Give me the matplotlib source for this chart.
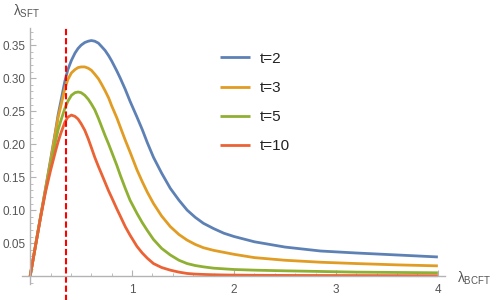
import matplotlib
matplotlib.use("Agg")
import matplotlib.pyplot as plt
from matplotlib.ticker import MultipleLocator

# ---- data ----
x_vals = [0.0, 0.1, 0.15, 0.2, 0.25, 0.275, 0.3, 0.34, 0.37, 0.405,
          0.44, 0.47, 0.5, 0.536, 0.57, 0.6, 0.634, 0.67, 0.7, 0.735,
          0.77, 0.8, 0.85, 0.884, 0.933, 0.98, 1.048, 1.1, 1.15, 1.21,
          1.29, 1.375, 1.46, 1.54, 1.62, 1.7, 1.8, 1.9, 2.0, 2.2,
          2.5, 2.85, 3.2, 3.6, 4.0]
t2 = [0, .088, .132, .176, .221, .245, .264, .295, .313, .327,
      .338, .345, .350, .354, .356, .357, .356, .353, .348, .342,
      .334, .326, .311, .300, .283, .265, .241, .222, .202, .180,
      .156, .133, .115, .100, .089, .080, .072, .065, .060, .052,
      .044, .038, .035, .032, .029]
t3 = [0, .088, .131, .174, .219, .241, .257, .284, .298, .308,
      .313, .316, .317, .317, .315, .312, .306, .299, .291, .281,
      .270, .258, .240, .226, .206, .188, .161, .143, .127, .110,
      .091, .075, .063, .0545, .048, .043, .039, .036, .033, .028,
      .024, .021, .019, .017, .0155]
t5 = [0, .088, .129, .168, .205, .222, .235, .254, .265, .274,
      .278, .279, .278, .274, .268, .261, .252, .239, .227, .213,
      .200, .188, .168, .153, .133, .115, .095, .081, .069, .0555,
      .042, .032, .024, .019, .016, .014, .012, .011, .010, .009,
      .008, .007, .006, .0055, .005]
t10 = [0, .087, .127, .160, .190, .204, .216, .233, .241, .244,
       .242, .238, .231, .221, .208, .195, .180, .166, .155, .142,
       .129, .119, .102, .091, .075, .062, .045, .035, .027, .019,
       .013, .009, .006, .004, .003, .0025, .002, .0017, .0015, .0012,
       .001, .0009, .0008, .0007, .0006]
series = [t2, t3, t5, t10]
labels = ["t=2", "t=3", "t=5", "t=10"]
x_dashed = 0.355
x_ticks = [1, 2, 3, 4]
y_ticks = [0.05, 0.10, 0.15, 0.20, 0.25, 0.30, 0.35]

colors = ["#5E81B5", "#E19C24", "#8FB032", "#EB6235"]

plt.rcParams['font.family'] = ['Liberation Sans', 'DejaVu Sans']
plt.rcParams['mathtext.fontset'] = 'custom'
plt.rcParams['mathtext.rm'] = 'Liberation Sans'
plt.rcParams['mathtext.it'] = 'Liberation Sans'
plt.rcParams['mathtext.sf'] = 'Liberation Sans'

fig = plt.figure(figsize=(5, 3), dpi=100)
ax = fig.add_axes([0.044, 0.0533, 0.846, 0.8534])

for ys, c, lab in zip(series, colors, labels):
    ax.plot(x_vals, ys, color=c, lw=2.0, label=lab,
            solid_joinstyle='round', solid_capstyle='butt')

ax.plot([x_dashed, x_dashed], [-0.05, 0.376], color='#FF0000', lw=1.5,
        ls=(0, (3, 1.4)), clip_on=False)

ax.set_xlim(-0.08, 4.07)
ax.set_ylim(-0.012, 0.376)

axis_col = '#b3b3b3'
txt_col = '#555555'
for s in ['top', 'right']:
    ax.spines[s].set_visible(False)
ax.spines['left'].set_position(('data', 0))
ax.spines['bottom'].set_position(('data', 0))
for s in ['left', 'bottom']:
    ax.spines[s].set_color(axis_col)
    ax.spines[s].set_linewidth(1.0)

ax.set_xticks(x_ticks)
ax.set_xticklabels([str(v) for v in x_ticks])
ax.set_yticks(y_ticks)
ax.set_yticklabels(["%.2f" % v for v in y_ticks])
ax.xaxis.set_minor_locator(MultipleLocator(0.2))
ax.yaxis.set_minor_locator(MultipleLocator(0.01))
ax.tick_params(which='major', direction='in', length=4, width=0.8, color=axis_col,
               labelcolor=txt_col, labelsize=8.5)
ax.tick_params(which='minor', direction='in', length=2.5, width=0.6, color=axis_col)
ax.tick_params(axis='x', which='major', pad=6)
ax.tick_params(axis='y', which='major', pad=3)
ax.patch.set_alpha(0)

fig.text(13 / 500, 1 - 11 / 300, r'$\lambda_{\mathrm{SFT}}$', color=txt_col,
         fontsize=10, va='center', ha='left')
fig.text(457 / 500, 1 - 278 / 300, r'$\lambda_{\mathrm{BCFT}}$', color=txt_col,
         fontsize=10, va='center', ha='left')

leg = ax.legend(loc='upper left', bbox_to_anchor=(212 / 500, 1 - 44 / 300),
                bbox_transform=fig.transFigure, frameon=False, fontsize=11,
                handlelength=2.0, handletextpad=0.6, labelspacing=1.0,
                borderpad=0)
for t in leg.get_texts():
    t.set_color('#222222')

fig.savefig('out.png', dpi=100)
